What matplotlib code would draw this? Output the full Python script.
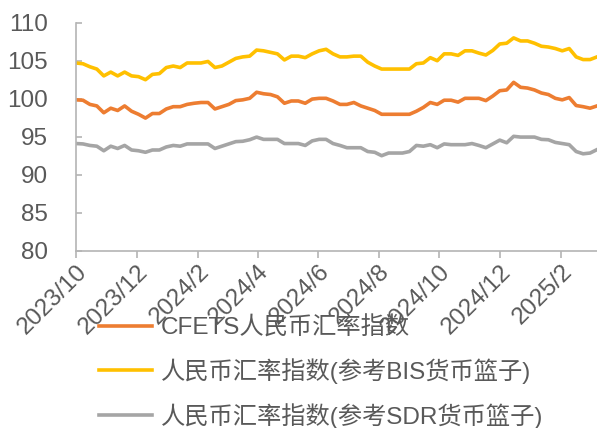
import matplotlib
matplotlib.use("Agg")
import matplotlib.pyplot as plt
import matplotlib.dates as mdates
import pandas as pd

plt.rcParams['font.family'] = ['Liberation Sans', 'Noto Sans CJK SC', 'DejaVu Sans']

# weekly observation dates
dates = pd.date_range('2023-10-01', periods=76, freq='7D')

cfets = [99.85, 99.8, 99.25, 99.05, 98.15, 98.75, 98.45, 99.05, 98.35, 97.95, 97.45, 98.05, 98.05, 98.65, 98.95,
         98.95, 99.25, 99.4, 99.5, 99.5, 98.65, 98.95, 99.25, 99.75, 99.85, 100.05, 100.85, 100.65, 100.55, 100.25,
         99.4, 99.7, 99.7, 99.4, 99.95, 100.05, 100.05, 99.7, 99.25, 99.25, 99.5, 99.05, 98.75, 98.45, 97.95,
         97.95, 97.95, 97.95, 97.95, 98.35, 98.85, 99.5, 99.25, 99.8, 99.8, 99.55, 100.05, 100.05, 100.05, 99.75,
         100.35, 101.05, 101.15, 102.15, 101.5, 101.4, 101.15, 100.75, 100.55, 100.05, 99.85, 100.15, 99.1, 98.95, 98.75, 99.05]

bis = [104.7, 104.6, 104.2, 103.9, 103.0, 103.5, 103.0, 103.5, 103.0, 102.9, 102.5, 103.2, 103.3, 104.1, 104.3,
       104.1, 104.7, 104.7, 104.7, 104.9, 104.1, 104.3, 104.8, 105.3, 105.5, 105.6, 106.4, 106.3, 106.1, 105.9,
       105.1, 105.6, 105.6, 105.4, 105.9, 106.3, 106.5, 105.9, 105.5, 105.5, 105.6, 105.6, 104.8, 104.3, 103.9,
       103.9, 103.9, 103.9, 103.9, 104.6, 104.7, 105.4, 105.0, 105.9, 105.9, 105.7, 106.3, 106.3, 106.0, 105.75,
       106.35, 107.2, 107.3, 108.0, 107.6, 107.6, 107.3, 106.9, 106.8, 106.6, 106.3, 106.6, 105.5, 105.15, 105.15, 105.5]

sdr = [94.1, 94.05, 93.85, 93.75, 93.15, 93.75, 93.45, 93.85, 93.25, 93.15, 92.95, 93.25, 93.25, 93.65, 93.85,
       93.75, 94.05, 94.05, 94.05, 94.05, 93.45, 93.75, 94.05, 94.35, 94.4, 94.6, 94.95, 94.65, 94.65, 94.65,
       94.1, 94.1, 94.1, 93.85, 94.45, 94.65, 94.65, 94.1, 93.85, 93.55, 93.55, 93.55, 93.05, 92.95, 92.5,
       92.85, 92.85, 92.85, 93.05, 93.85, 93.75, 93.95, 93.55, 94.05, 93.95, 93.95, 93.95, 94.1, 93.85, 93.55,
       94.05, 94.55, 94.2, 95.05, 94.95, 94.95, 94.95, 94.65, 94.6, 94.25, 94.1, 93.95, 93.05, 92.75, 92.85, 93.3]

labels = ['CFETS人民币汇率指数', '人民币汇率指数(参考BIS货币篮子)', '人民币汇率指数(参考SDR货币篮子)']
colors = ['#ED7D31', '#FFC000', '#A5A5A5']
yticks = [80, 85, 90, 95, 100, 105, 110]

W, H = 597, 428
FS = 17.5
fig = plt.figure(figsize=(W / 100, H / 100), dpi=100)
ax = fig.add_axes([76 / W, 1 - 250.7 / H, (W - 76) / W, 228 / H])

for vals, lab, c in zip([cfets, bis, sdr], labels, colors):
    ax.plot(dates, vals, color=c, lw=2.6, label=lab, solid_joinstyle='round')

ax.set_ylim(80, 110)
ax.set_yticks(yticks)
ax.set_xlim(dates[0], dates[-1])
ax.xaxis.set_major_locator(mdates.MonthLocator(bymonth=[2, 4, 6, 8, 10, 12], bymonthday=1))
ax.xaxis.set_major_formatter(plt.FuncFormatter(
    lambda v, p: f"{mdates.num2date(v).year}/{mdates.num2date(v).month}"))

for s in ['top', 'right']:
    ax.spines[s].set_visible(False)
for s in ['left', 'bottom']:
    ax.spines[s].set_color('#B4B4B4')
    ax.spines[s].set_linewidth(1.2)

ax.tick_params(axis='y', direction='in', length=4.5, width=1.2, color='#B4B4B4',
               labelsize=FS, labelcolor='#595959', pad=20)
ax.tick_params(axis='x', direction='out', length=5, width=1.2, color='#B4B4B4',
               labelsize=FS, labelcolor='#595959', pad=2)
for t in ax.get_xticklabels():
    t.set_rotation(45)
    t.set_ha('right')
    t.set_va('top')
    t.set_rotation_mode('anchor')

leg = fig.legend(loc='upper left', bbox_to_anchor=(99 / W, 1 - 316 / H), frameon=False,
                 fontsize=FS, handlelength=2.2, handletextpad=0.33, labelspacing=0.78,
                 borderaxespad=0, borderpad=0)
for t in leg.get_texts():
    t.set_color('#595959')

fig.savefig('out.png', dpi=100)
